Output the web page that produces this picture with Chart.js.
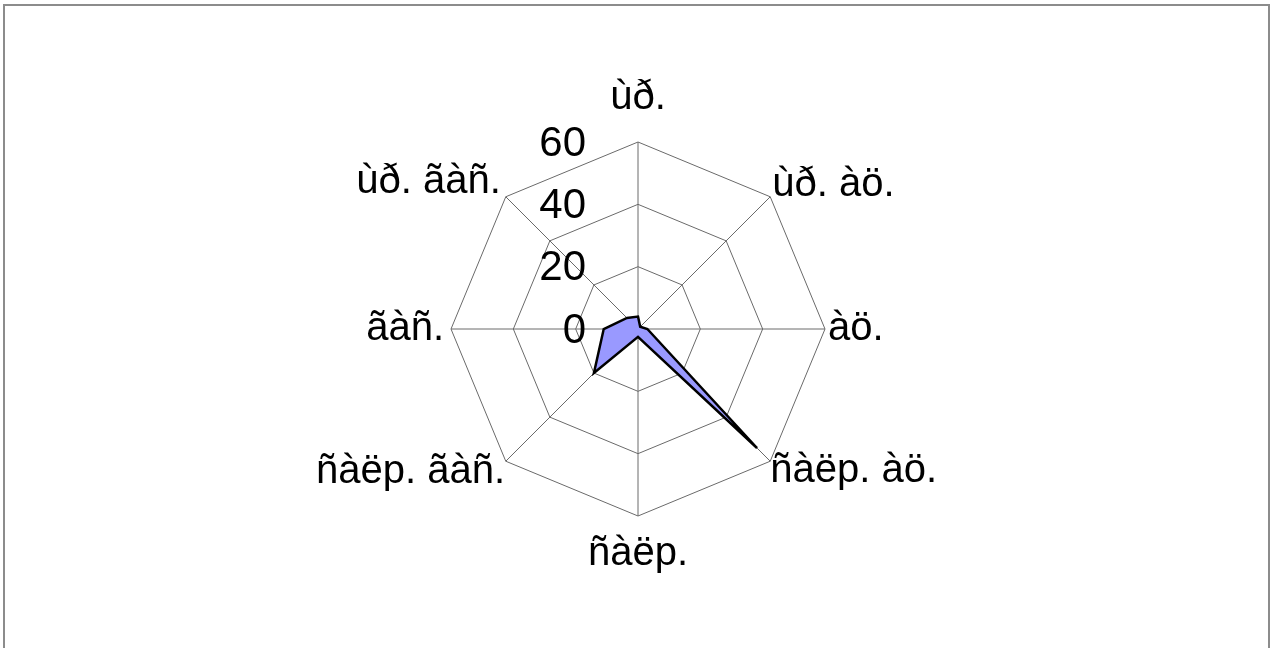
<!DOCTYPE html>
<html>
<head>
<meta charset="utf-8">
<script src="https://cdn.jsdelivr.net/npm/chart.js@4.4.1/dist/chart.umd.min.js"></script>
<style>
  html, body { margin: 0; padding: 0; background: #fff; overflow: hidden; }
  #wrap { position: relative; width: 1272px; height: 648px; }
  #frame { position: absolute; left: 3px; top: 4px; width: 1263px; height: 700px;
           border: 2px solid #8c8c8c; border-bottom: none; pointer-events: none; }
</style>
</head>
<body>
<div id="wrap">
  <canvas id="chart"></canvas>
  <div id="frame"></div>
</div>
<script>
// categories, clockwise from the top
const labels = ['ùð.', 'ùð. àö.', 'àö.', 'ñàëp. àö.', 'ñàëp.', 'ñàëp. ãàñ.', 'ãàñ.', 'ùð. ãàñ.'];
const values = [4, 1, 3, 54, 2.5, 20, 11, 5];
const tickValues = [0, 20, 40, 60];

// per-label distance from the outer ring
const labelPadding = [34, 3, 3, 0, 28, 1, 7, 7];

// tick numbers sit left of the vertical spoke, drawn over the grid
const tickLabelsPlugin = {
  id: 'tickLabels',
  afterDatasetsDraw(chart) {
    const scale = chart.scales.r;
    const ctx = chart.ctx;
    ctx.save();
    ctx.font = '42px "Liberation Sans", Arial, sans-serif';
    ctx.fillStyle = '#000';
    ctx.textAlign = 'right';
    ctx.textBaseline = 'middle';
    tickValues.forEach(v => {
      const d = scale.getDistanceFromCenterForValue(v);
      ctx.fillText(String(v), scale.xCenter - 52, scale.yCenter - d + 2);
    });
    ctx.restore();
  }
};

new Chart(document.getElementById('chart'), {
  type: 'radar',
  data: {
    labels: labels,
    datasets: [{
      data: values,
      backgroundColor: '#9999ff',
      borderColor: '#000',
      borderWidth: 2.5,
      borderJoinStyle: 'miter',
      pointRadius: 0,
      pointHoverRadius: 0,
      fill: true
    }]
  },
  options: {
    responsive: true,
    maintainAspectRatio: false,
    animation: false,
    layout: { padding: { left: 4, right: 0, top: 85, bottom: 81 } },
    plugins: {
      legend: { display: false },
      tooltip: { enabled: false }
    },
    scales: {
      r: {
        min: 0,
        max: 60,
        ticks: { display: false, stepSize: 20 },
        grid: { circular: false, color: '#6a6a6a', lineWidth: 1 },
        angleLines: { color: '#6a6a6a', lineWidth: 1 },
        pointLabels: {
          color: '#000',
          font: { family: '"Liberation Sans", Arial, sans-serif', size: 40, lineHeight: 0.5 },
          padding: ctx => labelPadding[ctx.index]
        }
      }
    }
  },
  plugins: [tickLabelsPlugin]
});
</script>
</body>
</html>
